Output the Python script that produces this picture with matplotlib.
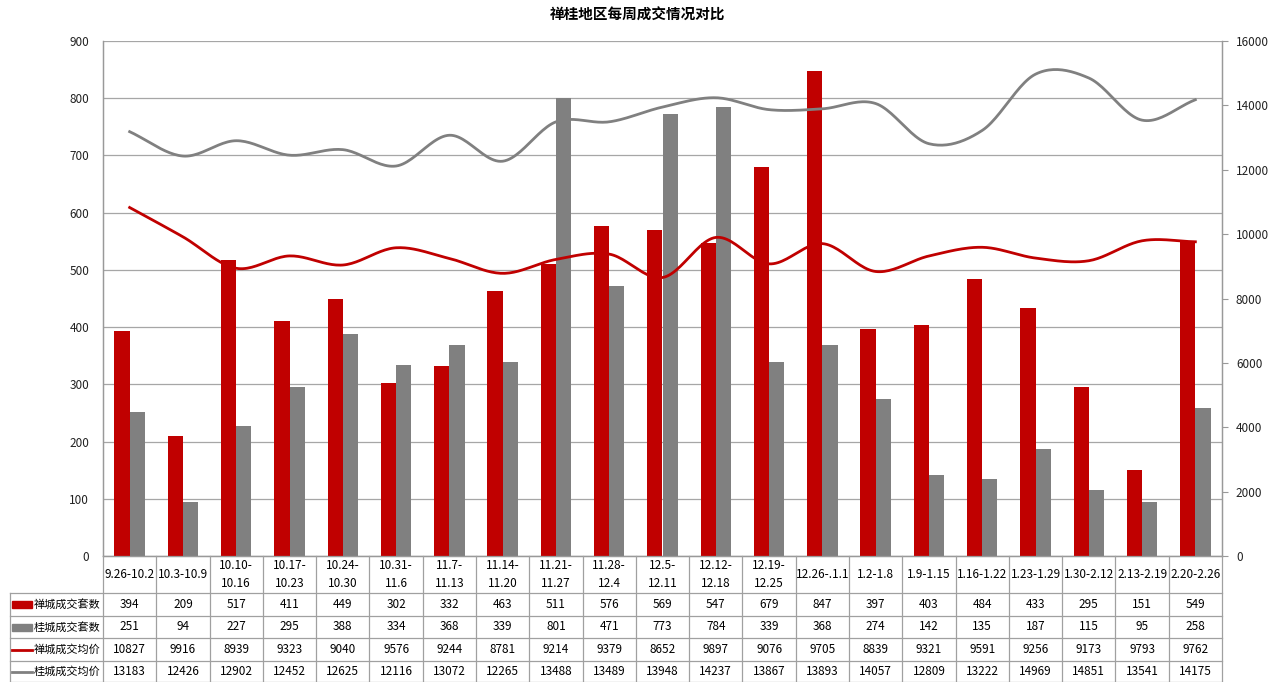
import matplotlib
matplotlib.use("Agg")
import matplotlib.pyplot as plt
import numpy as np
from matplotlib.lines import Line2D
from matplotlib.patches import Rectangle

plt.rcParams['font.family'] = ['Noto Sans CJK SC', 'DejaVu Sans']

# 数据
weeks = ['9.26-10.2', '10.3-10.9', '10.10-\n10.16', '10.17-\n10.23', '10.24-\n10.30',
         '10.31-\n11.6', '11.7-\n11.13', '11.14-\n11.20', '11.21-\n11.27', '11.28-\n12.4',
         '12.5-\n12.11', '12.12-\n12.18', '12.19-\n12.25', '12.26-.1.1', '1.2-1.8',
         '1.9-1.15', '1.16-1.22', '1.23-1.29', '1.30-2.12', '2.13-2.19', '2.20-2.26']
chan_sets = [394, 209, 517, 411, 449, 302, 332, 463, 511, 576, 569, 547, 679, 847, 397,
             403, 484, 433, 295, 151, 549]
gui_sets = [251, 94, 227, 295, 388, 334, 368, 339, 801, 471, 773, 784, 339, 368, 274,
            142, 135, 187, 115, 95, 258]
chan_price = [10827, 9916, 8939, 9323, 9040, 9576, 9244, 8781, 9214, 9379, 8652, 9897,
              9076, 9705, 8839, 9321, 9591, 9256, 9173, 9793, 9762]
gui_price = [13183, 12426, 12902, 12452, 12625, 12116, 13072, 12265, 13488, 13489, 13948,
             14237, 13867, 13893, 14057, 12809, 13222, 14969, 14851, 13541, 14175]
row_names = ['禅城成交套数', '桂城成交套数', '禅城成交均价', '桂城成交均价']

RED = '#c00000'
GREY = '#808080'


def smooth(y, n=24, t=0.5):
    # Catmull-Rom 曲线，近似 Excel 的平滑线
    y = np.asarray(y, dtype=float)
    x = np.arange(len(y), dtype=float)
    p = np.concatenate([[2 * y[0] - y[1]], y, [2 * y[-1] - y[-2]]])
    xs, ys = [], []
    for i in range(len(y) - 1):
        p0, p1, p2, p3 = p[i], p[i + 1], p[i + 2], p[i + 3]
        m1 = t * (p2 - p0)
        m2 = t * (p3 - p1)
        s = np.linspace(0, 1, n, endpoint=False)
        h00 = 2 * s**3 - 3 * s**2 + 1
        h10 = s**3 - 2 * s**2 + s
        h01 = -2 * s**3 + 3 * s**2
        h11 = s**3 - s**2
        ys.append(h00 * p1 + h10 * m1 + h01 * p2 + h11 * m2)
        xs.append(x[i] + s)
    xs.append([x[-1]])
    ys.append([y[-1]])
    return np.concatenate(xs), np.concatenate(ys)


W, H = 1276, 682
fig = plt.figure(figsize=(W / 100, H / 100), dpi=100)
L, R, T, B = 103, 1222, 41, 556
ax = fig.add_axes([L / W, 1 - B / H, (R - L) / W, (B - T) / H])
ax2 = ax.twinx()

n = len(weeks)
x = np.arange(n)
bw = 0.285
ax.bar(x - bw / 2, chan_sets, bw, color=RED, zorder=3)
ax.bar(x + bw / 2, gui_sets, bw, color=GREY, zorder=3)
ax.set_xlim(-0.5, n - 0.5)
ax.set_ylim(0, 900)
ax.set_yticks(range(0, 901, 100))
ax.grid(axis='y', color='#a6a6a6', linewidth=0.9, zorder=0)
ax.set_xticks([])

ax2.set_ylim(0, 16000)
ax2.set_yticks(range(0, 16001, 2000))
sx, sy = smooth(chan_price)
ax2.plot(sx, sy, color=RED, linewidth=2)
sx, sy = smooth(gui_price)
ax2.plot(sx, sy, color=GREY, linewidth=2)

ax.tick_params(axis='y', labelsize=8.5, length=0, pad=10, colors='#222222')
ax2.tick_params(axis='y', labelsize=8.5, length=4, color='#999999', colors='#222222', pad=6)
for a in (ax, ax2):
    for sp in a.spines.values():
        sp.set_color('#999999')
        sp.set_linewidth(0.9)
    a.spines['top'].set_visible(False)

fig.text(0.5, 1 - 15 / H, '禅桂地区每周成交情况对比', ha='center', va='center',
         fontsize=10.5, fontweight='bold')

# 数据表
def fy(py):
    return 1 - py / H

col_w = (R - L) / n
row_edges = [556, 593, 616, 638, 661, 682]
lc = '#a0a0a0'
# 横线
for ry in row_edges[1:]:
    fig.add_artist(Line2D([10 / W, R / W], [fy(ry), fy(ry)], color=lc, linewidth=0.9))
# 竖线
fig.add_artist(Line2D([10 / W, 10 / W], [fy(593), fy(682)], color=lc, linewidth=0.9))
for j in range(n + 1):
    xx = (L + j * col_w) / W
    fig.add_artist(Line2D([xx, xx], [fy(556), fy(682)], color=lc, linewidth=0.9))

# 表头
for j, w in enumerate(weeks):
    cx = (L + (j + 0.5) * col_w) / W
    fig.text(cx, fy((556 + 593) / 2), w, ha='center', va='center', fontsize=8.5,
             linespacing=1.45)

series = [chan_sets, gui_sets, chan_price, gui_price]
for i, (name, vals) in enumerate(zip(row_names, series)):
    cy = fy((row_edges[i + 1] + row_edges[i + 2]) / 2)
    color = RED if i % 2 == 0 else GREY
    if i < 2:
        fig.add_artist(Rectangle((12 / W, cy - 3.5 / H), 20 / W, 7 / H,
                                 color=color, transform=fig.transFigure))
    else:
        fig.add_artist(Line2D([12 / W, 32 / W], [cy, cy], color=color, linewidth=2))
    fig.text(34 / W, cy, name, ha='left', va='center', fontsize=8)
    for j, v in enumerate(vals):
        cx = (L + (j + 0.5) * col_w) / W
        fig.text(cx, cy, str(v), ha='center', va='center', fontsize=8.5)

fig.savefig('out.png', dpi=100, facecolor='white')
